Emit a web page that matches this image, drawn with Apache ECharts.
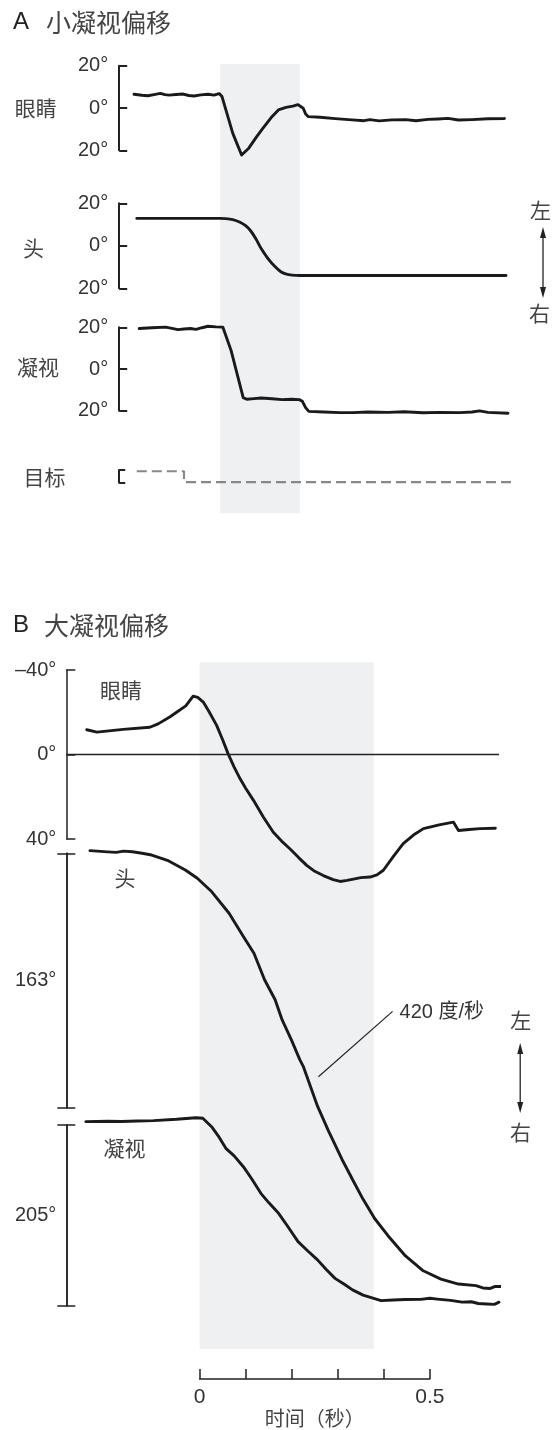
<!DOCTYPE html>
<html>
<head>
<meta charset="utf-8">
<script src="https://cdn.jsdelivr.net/npm/echarts@6/dist/echarts.min.js"></script>
<style>
  html, body { margin: 0; padding: 0; background: #fff; }
  #gazeChart { width: 553px; height: 1430px; }
</style>
</head>
<body>
<div id="gazeChart"></div>
<script>
// A 小凝视偏移 —— [时间(秒), 角度(度)]
var eyeA = [[-0.215, 6.5], [-0.195, 6.0], [-0.18, 5.8], [-0.165, 6.3], [-0.149, 6.9], [-0.138, 6.3], [-0.127, 6.1],
  [-0.11, 6.4], [-0.092, 6.6], [-0.078, 5.9], [-0.065, 5.7], [-0.048, 6.2], [-0.03, 6.5], [-0.015, 6.1], [-0.002, 6.8],
  [0.005, 5.4], [0.032, -12], [0.054, -22.2], [0.072, -19], [0.09, -14], [0.107, -9.6], [0.128, -4.5], [0.146, -0.9],
  [0.165, 0.3], [0.182, 0.9], [0.195, 1.6], [0.2, 1.4], [0.208, -0.1], [0.214, -2.8], [0.221, -4.1], [0.25, -4.4],
  [0.288, -5], [0.33, -5.6], [0.36, -6], [0.375, -5.5], [0.398, -6.1], [0.43, -5.6], [0.464, -5.5], [0.49, -6],
  [0.52, -5.4], [0.545, -5.2], [0.57, -4.9], [0.596, -5.7], [0.63, -5.5], [0.67, -5.1], [0.711, -5]]
var headA = [[-0.208, 12.9], [0.0, 12.9], [0.014, 12.8], [0.032, 12.3], [0.05, 11.1], [0.064, 9.5], [0.076, 7.2],
  [0.09, 3.2], [0.1025, -1.2], [0.12, -6], [0.138, -9.9], [0.152, -12.2], [0.164, -13.2], [0.18, -13.8], [0.2, -14],
  [0.715, -14]]
var gazeA = [[-0.202, 19.4], [-0.17, 19.8], [-0.136, 20.1], [-0.12, 19.5], [-0.105, 18.9], [-0.09, 19.2], [-0.074, 19.4],
  [-0.06, 19.0], [-0.045, 19.8], [-0.03, 20.5], [-0.01, 20.2], [0.007, 20.1], [0.0275, 9], [0.058, -13.7], [0.067, -14.5],
  [0.085, -14.2], [0.1025, -13.9], [0.13, -14.3], [0.155, -14.7], [0.18, -14.5], [0.198, -14.7], [0.206, -15.5],
  [0.214, -18.5], [0.222, -20.3], [0.26, -20.6], [0.3, -20.9], [0.332, -20.9], [0.37, -20.6], [0.42, -20.8],
  [0.46, -20.5], [0.508, -21], [0.55, -20.8], [0.6, -20.9], [0.63, -20.6], [0.649, -20.1], [0.67, -20.8], [0.72, -21.2]]
var targetA = [[-0.208, 16], [-0.09, 16], [-0.09, -18], [0.7285, -18]]
var shadeA = [0, 0.2]

// B 大凝视偏移
var eyeB = [[-0.245, -11.7], [-0.223, -10.6], [-0.166, -11.9], [-0.108, -12.9], [-0.09, -14.5], [-0.064, -17.9],
  [-0.05, -20], [-0.03, -23], [-0.014, -27.6], [-0.004, -27], [0.008, -24.8], [0.02, -20.5], [0.037, -13.8],
  [0.05, -7], [0.062, -0.3], [0.075, 6], [0.088, 11.5], [0.1, 16], [0.117, 21.7], [0.138, 29.5], [0.16, 36.8],
  [0.178, 41], [0.196, 44.6], [0.215, 48.8], [0.2325, 52.5], [0.25, 55.3], [0.2686, 57.3], [0.29, 59.2],
  [0.305, 60.1], [0.32, 59.6], [0.334, 59], [0.337, 59.8], [0.35, 58.3], [0.37, 58], [0.385, 57], [0.399, 54.8],
  [0.42, 48.5], [0.442, 42.2], [0.465, 38], [0.486, 35.1], [0.52, 33.3], [0.551, 32], [0.562, 36], [0.585, 35.5],
  [0.609, 35.1], [0.642, 34.9]]
var headB = [[-0.238, -1.7], [-0.2, -0.9], [-0.181, -0.6], [-0.165, -1.4], [-0.146, -1], [-0.125, 0], [-0.104, 1.1],
  [-0.07, 4.5], [-0.031, 10.7], [-0.005, 16], [0.026, 24.5], [0.064, 38.4], [0.095, 53.3], [0.118, 64], [0.141, 81],
  [0.164, 93.8], [0.179, 106.6], [0.2, 120], [0.2175, 132.2], [0.225, 136.5], [0.256, 162], [0.28, 178], [0.309, 196],
  [0.332, 209], [0.355, 221.7], [0.38, 234], [0.409, 245], [0.447, 258], [0.4855, 267.5], [0.524, 272.8], [0.562, 276],
  [0.6, 277], [0.615, 278.5], [0.631, 278.8], [0.642, 277.5], [0.654, 277.6]]
var gazeB = [[-0.247, -3.8], [-0.2, -4.2], [-0.17, -4], [-0.135, -4.5], [-0.1, -5], [-0.05, -6.5], [-0.008, -8.3],
  [0.007, -7.6], [0.026, 1.9], [0.04, 12], [0.057, 26.5], [0.075, 35], [0.095, 47.3], [0.113, 61], [0.133, 77.5],
  [0.15, 88], [0.1715, 100.2], [0.19, 114], [0.2137, 132.3], [0.235, 143], [0.256, 153], [0.275, 164], [0.294, 174],
  [0.315, 181], [0.332, 187], [0.355, 193], [0.378, 196.6], [0.394, 199.3], [0.42, 198.5], [0.447, 198], [0.48, 197.8],
  [0.5, 196.5], [0.516, 197.5], [0.545, 199], [0.57, 201], [0.59, 200.5], [0.605, 202.5], [0.623, 203], [0.64, 203.5],
  [0.65, 201]]
var shadeB = [0, 0.378]
var speedLine = [[0.419, 101.3], [0.258, 143.2]]  // 420 度/秒 引线
var timeTicks = [0, 0.5]

var NUM_FONT = "'Liberation Sans', Arial, sans-serif"
var CJK_FONT = "'Noto Sans CJK SC', sans-serif"
var INK = '#1a1a1a'

// 两个面板各自的时间比例尺
var pA = { k: 400, x0: 220, tMin: -0.252, tMax: 0.75 }
var pB = { k: 460.6, x0: 199.6, tMin: -0.2894, tMax: 0.65 }

function box(p, top, height, tMin, tMax) {
  tMin = tMin === undefined ? p.tMin : tMin
  tMax = tMax === undefined ? p.tMax : tMax
  return { left: p.x0 + tMin * p.k, top: top, width: (tMax - tMin) * p.k, height: height, outerBoundsMode: 'none' }
}
function hiddenX(i, p) {
  return { gridIndex: i, type: 'value', min: p.tMin, max: p.tMax, show: false }
}
function hiddenY(i) {
  return { gridIndex: i, type: 'value', min: 0, max: 1, show: false }
}
function bracketA(i, showLabel) {
  return {
    gridIndex: i, type: 'value', position: 'left', min: -20, max: 20, interval: showLabel ? 20 : 40,
    splitLine: { show: false },
    axisLine: { show: true, onZero: false, lineStyle: { color: '#222', width: 2 } },
    axisTick: { show: true, inside: true, length: showLabel ? 8 : 6, lineStyle: { color: '#222', width: 2 } },
    axisLabel: {
      show: showLabel, margin: 11, color: '#333', fontSize: 20, fontFamily: NUM_FONT,
      formatter: function(v) { return Math.abs(v) + '°' }
    }
  }
}
function bracketB(i, max, inside, name) {
  return {
    gridIndex: i, type: 'value', position: 'left', min: 0, max: max, interval: max, inverse: true,
    splitLine: { show: false },
    axisLine: { show: true, onZero: false, lineStyle: { color: '#222', width: 1.5 } },
    axisTick: { show: true, inside: inside, length: 9, lineStyle: { color: '#222', width: 1.5 } },
    axisLabel: { show: false },
    name: name || '', nameLocation: 'middle', nameRotate: 0, nameGap: 10,
    nameTextStyle: { color: '#333', fontSize: 20, fontFamily: NUM_FONT }
  }
}
function trace(data, xi, yi, extra) {
  var s = {
    type: 'line', data: data, xAxisIndex: xi, yAxisIndex: yi, symbol: 'none', clip: false, z: 3,
    lineStyle: { color: INK, width: 2.9, join: 'round', cap: 'round' }
  }
  return Object.assign(s, extra || {})
}
function shade(range, xi, yi) {
  return {
    type: 'line', data: [], xAxisIndex: xi, yAxisIndex: yi, z: 0, silent: true,
    markArea: { silent: true, itemStyle: { color: '#eff0f2' }, data: [[{ xAxis: range[0] }, { xAxis: range[1] }]] }
  }
}
function txt(x, y, text, size, font, align, color) {
  return {
    type: 'text', x: x, y: y, z: 10,
    style: { text: text, font: size + 'px ' + font, fill: color || '#444', align: align || 'center', verticalAlign: 'middle' }
  }
}
function arrow(x, y1, y2) {
  var c = '#222'
  return {
    type: 'group', children: [
      { type: 'line', shape: { x1: x, y1: y1 + 8, x2: x, y2: y2 - 8 }, style: { stroke: c, lineWidth: 1.3 } },
      { type: 'polygon', shape: { points: [[x, y1], [x - 3, y1 + 11], [x + 3, y1 + 11]] }, style: { fill: c } },
      { type: 'polygon', shape: { points: [[x, y2], [x - 3, y2 - 11], [x + 3, y2 - 11]] }, style: { fill: c } }
    ]
  }
}

var chart = echarts.init(document.getElementById('gazeChart'), null, { renderer: 'canvas' })

var grids = [
  box(pA, 64, 449.3),      // 0 A 阴影
  box(pA, 65.7, 84.6),     // 1 A 眼睛
  box(pA, 203.3, 85),      // 2 A 头
  box(pA, 327.3, 83.4),    // 3 A 凝视
  box(pA, 470, 12.7),      // 4 A 目标
  box(pB, 662.3, 686.7),   // 5 B 阴影
  box(pB, 670, 169),       // 6 B 眼睛
  box(pB, 853.3, 254.4),   // 7 B 头
  box(pB, 1125, 180.7),    // 8 B 凝视
  box(pB, 1369, 10, 0, 0.5) // 9 B 时间轴
]

var xAxes = [hiddenX(0, pA), hiddenX(1, pA), hiddenX(2, pA), hiddenX(3, pA), hiddenX(4, pA),
  hiddenX(5, pB), hiddenX(6, pB), hiddenX(7, pB), hiddenX(8, pB),
  {
    gridIndex: 9, type: 'value', position: 'bottom', min: 0, max: 0.5, interval: 0.1,
    splitLine: { show: false },
    axisLine: { show: true, onZero: false, lineStyle: { color: '#222', width: 1.5 } },
    axisTick: { show: true, inside: true, length: 10, lineStyle: { color: '#222', width: 1.5 } },
    axisLabel: {
      margin: 8, color: '#333', fontSize: 21, fontFamily: NUM_FONT,
      formatter: function(v) { return timeTicks.indexOf(v) >= 0 ? String(v) : '' }
    },
    name: '时间（秒）', nameLocation: 'middle', nameGap: 29,
    nameTextStyle: { color: '#444', fontSize: 20, fontFamily: CJK_FONT }
  }]

var yAxes = [
  hiddenY(0), bracketA(1, true), bracketA(2, true), bracketA(3, true), bracketA(4, false),
  hiddenY(5),
  {
    gridIndex: 6, type: 'value', position: 'left', min: -40, max: 40, interval: 40, inverse: true,
    splitLine: { show: false },
    axisLine: { show: true, onZero: false, lineStyle: { color: '#222', width: 1.5 } },
    axisTick: { show: true, inside: true, length: 9, lineStyle: { color: '#222', width: 1.5 } },
    axisLabel: {
      margin: 10, color: '#333', fontSize: 20, fontFamily: NUM_FONT,
      formatter: function(v) { return (v < 0 ? '–' + (-v) : v) + '°' }
    }
  },
  bracketB(7, 163, true, '163°'), bracketB(7, 163, false),
  bracketB(8, 205, true, '205°'), bracketB(8, 205, false),
  hiddenY(9)
]

var series = [
  shade(shadeA, 0, 0),
  trace(eyeA, 1, 1),
  trace(headA, 2, 2, { smooth: 0.25 }),
  trace(gazeA, 3, 3),
  trace(targetA, 4, 4, { lineStyle: { color: '#888', width: 2.2, type: [10, 5] } }),
  shade(shadeB, 5, 5),
  trace(eyeB, 6, 6, {
    markLine: {
      silent: true, symbol: 'none', label: { show: false },
      lineStyle: { color: '#222', width: 1.4, type: 'solid' },
      data: [{ yAxis: 0 }]
    }
  }),
  trace(headB, 7, 7, {
    markLine: {
      silent: true, symbol: 'none', label: { show: false },
      lineStyle: { color: '#222', width: 1.2, type: 'solid' },
      data: [[{ coord: speedLine[0] }, { coord: speedLine[1] }]]
    }
  }),
  trace(gazeB, 8, 9)
]

chart.setOption({
  backgroundColor: '#fff',
  animation: false,
  grid: grids,
  xAxis: xAxes,
  yAxis: yAxes,
  series: series,
  graphic: [
    txt(13, 22, 'A', 24, NUM_FONT, 'left', '#222'),
    txt(46, 22, '小凝视偏移', 25, CJK_FONT, 'left'),
    txt(35.8, 108, '眼睛', 21, CJK_FONT),
    txt(33.5, 248, '头', 21, CJK_FONT),
    txt(38, 367, '凝视', 21, CJK_FONT),
    txt(44.6, 477, '目标', 21, CJK_FONT),
    txt(540.5, 210, '左', 21, CJK_FONT),
    arrow(543, 227, 298),
    txt(539.6, 313, '右', 21, CJK_FONT),
    txt(13, 625, 'B', 24, NUM_FONT, 'left', '#222'),
    txt(44, 625, '大凝视偏移', 25, CJK_FONT, 'left'),
    txt(121, 690, '眼睛', 21, CJK_FONT),
    txt(125, 878, '头', 21, CJK_FONT),
    txt(124.4, 1148, '凝视', 21, CJK_FONT),
    txt(399.6, 1012.7, '420 度/秒', 20, NUM_FONT + ", 'Noto Sans CJK SC'", 'left', '#333'),
    txt(520.7, 1020, '左', 21, CJK_FONT),
    arrow(520.2, 1043, 1113),
    txt(520.5, 1131.7, '右', 21, CJK_FONT)
  ]
})
</script>
</body>
</html>
